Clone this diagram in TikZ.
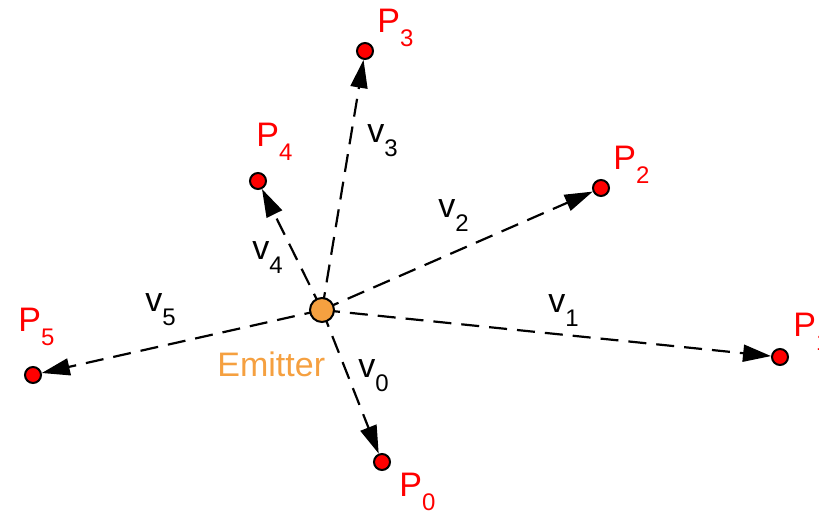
\documentclass[tikz,border=0pt]{standalone}
\usepackage{fontspec}
\setmainfont{Liberation Sans}
\usetikzlibrary{arrows.meta}
\definecolor{ptred}{HTML}{FF0000}
\definecolor{emitorange}{HTML}{F5A040}

\newcommand{\sublbl}[2]{#1\raisebox{-7pt}{\fontsize{12}{12}\selectfont #2}}

\begin{document}
\begin{tikzpicture}[x=0.5pt, y=0.5pt,
    point/.style={circle, draw=black, fill=ptred, line width=1pt,
      minimum size=8pt, inner sep=0pt},
    emitter/.style={circle, draw=black, fill=emitorange, line width=1pt,
      minimum size=12pt, inner sep=0pt},
    ray/.style={-{Triangle[length=14pt, width=8.5pt]}, line width=1.1pt,
      dash pattern=on 9pt off 5pt},
    plbl/.style={anchor=base west, inner sep=0pt, text=ptred,
      font=\fontsize{17}{20}\selectfont},
    vlbl/.style={anchor=base west, inner sep=0pt,
      font=\fontsize{17}{20}\selectfont},
  ]
  \useasboundingbox (0,0) rectangle (819,512);

  % Source
  \coordinate (E) at (322,202);

  % Target points
  \node[point] (p0) at (382,50) {};
  \node[point] (p1) at (780,155) {};
  \node[point] (p2) at (601,324) {};
  \node[point] (p3) at (365,461) {};
  \node[point] (p4) at (258,331) {};
  \node[point] (p5) at (33,137) {};

  % Point labels
  \node[plbl] (lp0) at (399,15) {\sublbl{P}{0}};
  \node[plbl] (lp1) at (793,175) {\sublbl{P}{1}};
  \node[plbl] (lp2) at (613,342) {\sublbl{P}{2}};
  \node[plbl] (lp3) at (377,479) {\sublbl{P}{3}};
  \node[plbl] (lp4) at (256,365) {\sublbl{P}{4}};
  \node[plbl] (lp5) at (18,180) {\sublbl{P}{5}};

  % Rays
  \draw[ray] (E) -- (p0);
  \draw[ray] (E) -- (p1);
  \draw[ray] (E) -- (p2);
  \draw[ray] (E) -- (p3);
  \draw[ray] (E) -- (p4);
  \draw[ray] (E) -- (p5);

  % Emitter on top
  \node[emitter] (emit) at (E) {};
  \node[anchor=base west, inner sep=0pt, text=emitorange,
    font=\fontsize{17}{20}\selectfont] (emitlbl) at (217,135) {Emitter};

  % Ray labels
  \node[vlbl] (v0) at (358,134) {\sublbl{v}{0}};
  \node[vlbl] (v1) at (548,199) {\sublbl{v}{1}};
  \node[vlbl] (v2) at (438,294) {\sublbl{v}{2}};
  \node[vlbl] (v3) at (367,369) {\sublbl{v}{3}};
  \node[vlbl] (v4) at (252,252) {\sublbl{v}{4}};
  \node[vlbl] (v5) at (145,200) {\sublbl{v}{5}};

\end{tikzpicture}
\end{document}
